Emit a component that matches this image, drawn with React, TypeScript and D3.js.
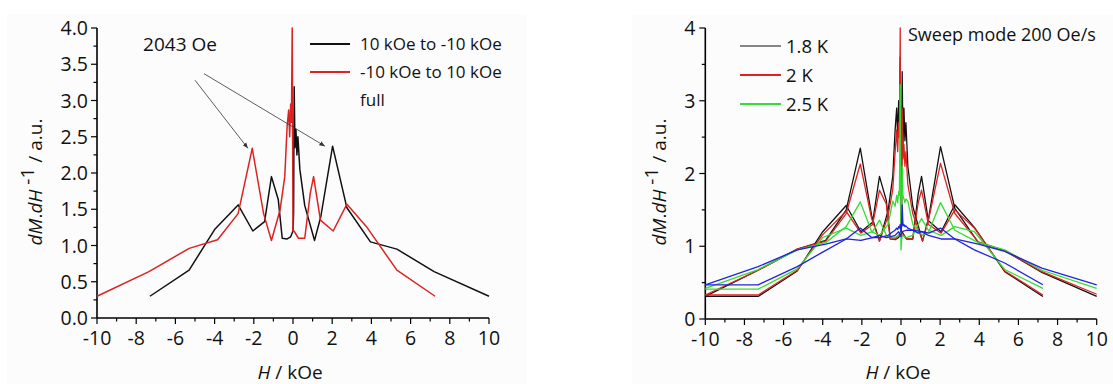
import React from "react";
import * as d3 from "d3";

// ---------- Left panel data ----------
const leftDownH = [-7.3, -5.3, -4.0, -2.8, -2.05, -1.45, -1.1, -0.75, -0.55, -0.3, -0.12, 0, 0.03, 0.06, 0.1, 0.15, 0.2, 0.25, 0.35, 0.6, 1.1, 1.42, 2.02, 2.75, 3.95, 5.3, 7.2, 10];
const leftDownV = [0.30, 0.66, 1.22, 1.56, 1.20, 1.33, 1.95, 1.63, 1.10, 1.09, 1.12, 1.20, 1.45, 3.19, 2.35, 2.60, 2.25, 2.50, 2.05, 1.55, 1.07, 1.40, 2.37, 1.52, 1.05, 0.95, 0.64, 0.30];
const leftUpH = [-10, -7.35, -5.3, -3.85, -2.8, -2.08, -1.5, -1.1, -0.66, -0.42, -0.3, -0.22, -0.17, -0.12, -0.08, -0.04, 0, 0.05, 0.28, 0.6, 0.88, 1.05, 1.4, 2.05, 2.75, 3.75, 5.3, 7.25];
const leftUpV = [0.30, 0.64, 0.96, 1.08, 1.44, 2.34, 1.44, 1.07, 1.49, 1.95, 2.64, 2.87, 2.50, 2.95, 2.70, 4.0, 1.20, 1.20, 1.10, 1.10, 1.72, 1.95, 1.35, 1.20, 1.57, 1.26, 0.66, 0.30];
const leftLegend = ["10 kOe to -10 kOe", "-10 kOe to 10 kOe", "full"];
const leftYTicks = [0, 0.5, 1, 1.5, 2, 2.5, 3, 3.5, 4];

// ---------- Right panel data ----------
const upH = [-10, -7.3, -5.3, -3.85, -2.8, -2.08, -1.5, -1.1, -0.66, -0.42, -0.3, -0.22, -0.17, -0.12, -0.08, -0.04, 0, 0.05, 0.28, 0.6, 0.88, 1.05, 1.4, 2.05, 2.75, 3.75, 5.3, 7.25];
const up18 = [0.31, 0.67, 0.96, 1.08, 1.50, 2.35, 1.42, 1.07, 1.49, 1.96, 2.60, 2.90, 2.50, 3.00, 2.70, 3.60, 1.20, 1.20, 1.10, 1.10, 1.72, 1.96, 1.35, 1.20, 1.57, 1.26, 0.65, 0.31];
const up20 = [0.33, 0.67, 0.96, 1.07, 1.45, 2.13, 1.38, 1.07, 1.42, 1.78, 2.30, 2.60, 2.30, 2.70, 2.50, 4.00, 1.15, 1.18, 1.10, 1.10, 1.60, 1.77, 1.30, 1.18, 1.50, 1.25, 0.66, 0.33];
const up25 = [0.42, 0.68, 0.95, 1.05, 1.27, 1.61, 1.20, 1.15, 1.30, 1.62, 1.55, 1.70, 1.60, 1.75, 1.70, 3.22, 0.95, 1.15, 1.12, 1.15, 1.30, 1.38, 1.22, 1.15, 1.27, 1.20, 0.68, 0.42];
const up30 = [0.47, 0.72, 0.95, 1.03, 1.10, 1.25, 1.12, 1.12, 1.15, 1.20, 1.22, 1.25, 1.23, 1.27, 1.25, 1.30, 1.20, 1.20, 1.22, 1.22, 1.18, 1.20, 1.15, 1.10, 1.10, 0.95, 0.77, 0.47];

const downH = [-10, -7.3, -5.3, -4.0, -2.8, -2.05, -1.45, -1.1, -0.75, -0.55, -0.3, -0.12, 0, 0.03, 0.06, 0.1, 0.15, 0.2, 0.25, 0.35, 0.6, 1.1, 1.42, 2.02, 2.75, 3.95, 5.3, 7.2, 10];
const down18 = [0.31, 0.31, 0.66, 1.20, 1.56, 1.20, 1.33, 1.96, 1.63, 1.10, 1.09, 1.12, 1.20, 1.45, 3.40, 2.40, 2.90, 2.45, 2.70, 2.10, 1.55, 1.07, 1.40, 2.37, 1.52, 1.05, 0.94, 0.64, 0.31];
const down20 = [0.33, 0.33, 0.67, 1.16, 1.48, 1.18, 1.30, 1.77, 1.58, 1.10, 1.10, 1.15, 1.20, 1.40, 2.90, 2.20, 2.40, 2.10, 2.30, 1.85, 1.45, 1.07, 1.38, 2.14, 1.45, 1.06, 0.94, 0.65, 0.34];
const down25 = [0.41, 0.41, 0.69, 1.12, 1.25, 1.15, 1.20, 1.36, 1.15, 1.12, 1.12, 1.15, 1.20, 1.50, 2.10, 1.70, 1.65, 1.60, 1.65, 1.62, 1.30, 1.15, 1.20, 1.60, 1.22, 1.05, 0.95, 0.67, 0.42];
const down30 = [0.47, 0.47, 0.72, 0.92, 1.10, 1.08, 1.12, 1.15, 1.12, 1.13, 1.15, 1.20, 1.13, 1.30, 1.57, 1.28, 1.30, 1.27, 1.28, 1.25, 1.22, 1.20, 1.18, 1.25, 1.10, 1.03, 0.93, 0.70, 0.47];

const rightLegend = ["1.8 K", "2 K", "2.5 K"];
const rightYTicks = [0, 1, 2, 3, 4];
const xTicks = [-10, -8, -6, -4, -2, 0, 2, 4, 6, 8, 10];

const C_BLACK = "#111111";
const C_RED = "#dd2222";
const C_GREEN = "#33dd33";
const C_BLUE = "#2222dd";

const FONT = "'Open Sans', 'DejaVu Sans', sans-serif";

function Axes({ x, y, yTicks, yMinor, fmt, labelGap, titleX, titleCx }: any) {
  const [x0, x1] = x.range();
  const [y0, y1] = y.range();
  const minorX = d3.range(-10, 10.001, 1);
  return (
    <g>
      <line x1={x0} x2={x1} y1={y0} y2={y0} stroke="#000" strokeWidth={1.6} />
      <line x1={x0} x2={x0} y1={y0} y2={y1} stroke="#000" strokeWidth={1.6} />
      {minorX.map((t: number) => (
        <line key={"mx" + t} x1={x(t)} x2={x(t)} y1={y0} y2={y0 + (t % 2 === 0 ? 6 : 3.5)} stroke="#000" strokeWidth={1.2} />
      ))}
      {yMinor.map((t: number) => {
        const major = yTicks.some((m: number) => Math.abs(m - t) < 1e-6);
        return <line key={"my" + t} x1={x0} x2={x0 - (major ? 6 : 3.5)} y1={y(t)} y2={y(t)} stroke="#000" strokeWidth={1.2} />;
      })}
      {xTicks.map((t) => (
        <text key={"xl" + t} x={x(t)} y={y0 + 27} textAnchor="middle" fontSize={19.5} fontFamily={FONT} fill="#111">{String(t)}</text>
      ))}
      {yTicks.map((t: number) => (
        <text key={"yl" + t} x={x0 - labelGap} y={y(t)} dy="0.36em" textAnchor="end" fontSize={19.5} fontFamily={FONT} fill="#111">{fmt(t)}</text>
      ))}
      <text x={titleCx} y={379} textAnchor="middle" fontSize={19} fontFamily={FONT} fill="#111">
        <tspan fontStyle="italic">H</tspan> / kOe
      </text>
      <text transform={`translate(${titleX},182) rotate(-90)`} textAnchor="middle" fontSize={19} fontFamily={FONT} fill="#111">
        <tspan fontStyle="italic">dM</tspan>.<tspan fontStyle="italic">dH</tspan>
        <tspan dy={-8}> -1</tspan>
        <tspan dy={8}> / a.u.</tspan>
      </text>
    </g>
  );
}

export default function App() {
  const xL = d3.scaleLinear().domain([-10, 10]).range([97, 489]);
  const yL = d3.scaleLinear().domain([0, 4]).range([318, 28]);
  const xR = d3.scaleLinear().domain([-10, 10]).range([705.3, 1096.7]);
  const yR = d3.scaleLinear().domain([0, 4]).range([319, 28]);

  const lineL = (hs: number[], vs: number[]) =>
    d3.line<number>().x((_, i) => xL(hs[i])).y((v) => yL(v))(vs) || "";
  const lineR = (hs: number[], vs: number[]) =>
    d3.line<number>().x((_, i) => xR(hs[i])).y((v) => yR(v))(vs) || "";

  const rightSeries = [
    { color: C_BLACK, up: up18, down: down18 },
    { color: C_RED, up: up20, down: down20 },
    { color: C_GREEN, up: up25, down: down25 },
    { color: C_BLUE, up: up30, down: down30 },
  ];

  // annotation arrows in data coordinates
  const arrows = [
    { from: [-5.0, 3.28], to: [-2.3, 2.34] },
    { from: [-4.54, 3.37], to: [1.63, 2.37] },
  ];

  return (
    <svg width={1113} height={384} style={{ position: "absolute", left: 0, top: 0, background: "#fff" }}>
      <defs>
        <marker id="ah" viewBox="0 0 10 10" refX="10" refY="5" markerWidth="7" markerHeight="7" orient="auto">
          <path d="M0,1 L10,5 L0,9 z" fill="#333" />
        </marker>
      </defs>
      <rect x={7} y={14} width={520} height={370} fill="#fcfcfc" />
      <rect x={632} y={15} width={481} height={369} fill="#fcfcfc" />

      {/* Left panel */}
      <Axes x={xL} y={yL} yTicks={leftYTicks} yMinor={d3.range(0, 4.001, 0.25)} fmt={d3.format(".1f")} labelGap={9} titleX={42} titleCx={290} />
      <path d={lineL(leftDownH, leftDownV)} fill="none" stroke={C_BLACK} strokeWidth={1.5} strokeLinejoin="round" />
      <path d={lineL(leftUpH, leftUpV)} fill="none" stroke={C_RED} strokeWidth={1.5} strokeLinejoin="round" />
      {arrows.map((a, i) => (
        <line key={i} x1={xL(a.from[0])} y1={yL(a.from[1])} x2={xL(a.to[0])} y2={yL(a.to[1])} stroke="#333" strokeWidth={0.8} markerEnd="url(#ah)" />
      ))}
      <text x={xL(-7.65)} y={yL(3.78)} dy="0.36em" fontSize={19} fontFamily={FONT} fill="#111">2043 Oe</text>
      {leftLegend.map((t, i) => (
        <g key={t}>
          {i < 2 && <line x1={310} x2={350} y1={44 + i * 28} y2={44 + i * 28} stroke={i === 0 ? C_BLACK : C_RED} strokeWidth={2} />}
          <text x={360} y={44 + i * 28} dy="0.36em" fontSize={17} fontFamily={FONT} fill="#111">{t}</text>
        </g>
      ))}

      {/* Right panel */}
      <Axes x={xR} y={yR} yTicks={rightYTicks} yMinor={d3.range(0, 4.001, 0.5)} fmt={(v: number) => String(v)} labelGap={10} titleX={666} titleCx={898} />
      {rightSeries.map((s, i) => (
        <g key={i}>
          <path d={lineR(downH, s.down)} fill="none" stroke={s.color} strokeWidth={1.3} strokeLinejoin="round" />
          <path d={lineR(upH, s.up)} fill="none" stroke={s.color} strokeWidth={1.3} strokeLinejoin="round" />
        </g>
      ))}
      {rightLegend.map((t, i) => (
        <g key={t}>
          <line x1={740} x2={781} y1={46 + i * 29} y2={46 + i * 29} stroke={[C_BLACK, C_RED, C_GREEN][i]} strokeWidth={i === 0 ? 1.2 : 2} />
          <text x={786} y={46 + i * 29} dy="0.36em" fontSize={18.5} fontFamily={FONT} fill="#111">{t}</text>
        </g>
      ))}
      <text x={908} y={35} dy="0.36em" fontSize={18} fontFamily={FONT} fill="#111">Sweep mode 200 Oe/s</text>
    </svg>
  );
}
